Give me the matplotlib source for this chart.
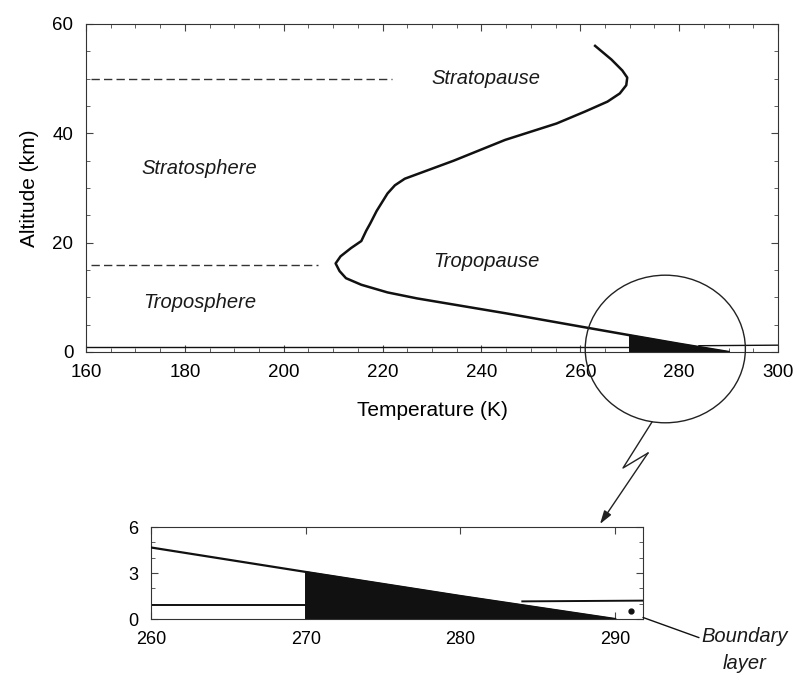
import numpy as np
import matplotlib.pyplot as plt
import matplotlib
from matplotlib.patches import Ellipse

matplotlib.rcParams['font.family'] = ['Liberation Sans', 'DejaVu Sans']
matplotlib.rcParams['text.color'] = '#1a1a1a'

# perfil de temperatura (K) vs altitud (km)
temp = [263.0, 266.3, 268.5, 269.5, 269.3, 268.0, 265.5, 261.0, 255.2, 244.8,
        234.4, 224.5, 222.5, 221.0, 218.8, 217.5, 216.7, 215.7, 213.6, 211.5,
        210.5, 211.3, 212.6, 215.7, 221.0, 227.0, 244.8, 260.4, 270.0, 280.0,
        290.0]
alt = [56.0, 53.5, 51.5, 50.2, 48.8, 47.3, 45.8, 44.0, 41.8, 38.8,
       35.0, 31.7, 30.5, 29.0, 25.8, 23.5, 22.2, 20.3, 19.0, 17.5,
       16.2, 14.8, 13.5, 12.3, 10.9, 9.8, 7.1, 4.6, 3.07, 1.5,
       0.0]

# capa límite
bl_left_T = [160, 270]
bl_left_z = [0.9, 0.9]
bl_right_T = [284, 300]
bl_right_z = [1.15, 1.25]

stratopause_z = 50
tropopause_z = 16
dash_strato_T = [161, 222]
dash_tropo_T = [161, 207]

labels = {'Stratopause': (241, 50), 'Stratosphere': (183, 33.5),
          'Tropopause': (241, 16.5), 'Troposphere': (183, 9)}

temp = np.array(temp)
alt = np.array(alt)
mask = temp >= 270
fill_T = np.concatenate([temp[mask], [temp[mask][0]]])
fill_z = np.concatenate([alt[mask], [0.0]])

fig = plt.figure(figsize=(8.04, 6.77), dpi=100)
W, H = 804, 677

def frac(l, t, r, b):
    return [l / W, 1 - b / H, (r - l) / W, (b - t) / H]

ink = '#111111'

# # Panel principal
ax = fig.add_axes(frac(86, 24, 778, 352))
ax.plot(temp, alt, color=ink, lw=1.8, zorder=3, solid_joinstyle='round')
ax.fill(fill_T, fill_z, color=ink, zorder=2)
ax.plot(bl_left_T, bl_left_z, color=ink, lw=1.0)
ax.plot(bl_right_T, bl_right_z, color=ink, lw=1.0)
ax.plot(dash_strato_T, [stratopause_z] * 2, color='#333333', lw=1.0, ls=(0, (6, 3)))
ax.plot(dash_tropo_T, [tropopause_z] * 2, color='#333333', lw=1.0, ls=(0, (6, 3)))
for txt, (tx, tz) in labels.items():
    ax.text(tx, tz, txt, style='italic', fontsize=14.5, ha='center', va='center')

ax.add_patch(Ellipse((277.2, 0.55), 32.4, 27, fill=False, ec='#222222', lw=1.0,
                     clip_on=False, zorder=4))

ax.set_xlim(160, 300)
ax.set_ylim(0, 60)
ax.set_xticks(np.arange(160, 301, 20))
ax.set_yticks([0, 20, 40, 60])
ax.set_xticks(np.arange(160, 301, 5), minor=True)
ax.set_yticks(np.arange(0, 61, 5), minor=True)
ax.tick_params(which='both', direction='in', top=True, right=True, color='#444444')
ax.tick_params(which='major', length=5, labelsize=13.5, pad=9)
ax.tick_params(which='minor', length=3)
ax.set_xlabel('Temperature (K)', fontsize=15, labelpad=14)
ax.set_ylabel('Altitude (km)', fontsize=15, labelpad=10)
for s in ax.spines.values():
    s.set_linewidth(0.8)
    s.set_color('#333333')

# # Detalle de la capa límite
axi = fig.add_axes(frac(151, 527, 643, 619))
axi.plot(temp, alt, color=ink, lw=1.6, zorder=3)
axi.fill(fill_T, fill_z, color=ink, zorder=2)
axi.plot(bl_left_T, bl_left_z, color=ink, lw=1.4)
axi.plot(bl_right_T, bl_right_z, color=ink, lw=1.4)
axi.plot([291], [0.5], 'o', color=ink, ms=3.5)
axi.set_xlim(260, 291.8)
axi.set_ylim(0, 6)
axi.set_xticks([260, 270, 280, 290])
axi.set_yticks([0, 3, 6])
axi.set_yticks(np.arange(0, 7, 1), minor=True)
axi.tick_params(which='both', direction='in', top=True, right=True, color='#444444')
axi.tick_params(which='major', length=5, labelsize=13, pad=9)
axi.tick_params(which='minor', length=3)
for s in axi.spines.values():
    s.set_linewidth(0.8)
    s.set_color('#333333')

axi.annotate('Boundary\nlayer', xy=(291.8, 0.1), xycoords='data',
             xytext=(745 / W, 1 - 650 / H), textcoords='figure fraction',
             ha='center', va='center', style='italic', fontsize=14.5,
             linespacing=1.5,
             arrowprops=dict(arrowstyle='-', color=ink, lw=1.0,
                             shrinkA=0, shrinkB=0,
                             relpos=(0.0, 0.75)))

# # Flecha en zigzag (coordenadas en píxeles de la figura)
ov = fig.add_axes([0, 0, 1, 1], zorder=-1)
ov.set_xlim(0, W)
ov.set_ylim(H, 0)
ov.axis('off')
ov.plot([652, 623, 648], [422, 468, 453], color='#222222', lw=1.0)
ov.annotate('', xy=(600, 524), xytext=(648, 453),
            arrowprops=dict(arrowstyle='-|>,head_length=0.8,head_width=0.25',
                            color='#222222', lw=1.0, shrinkA=0, shrinkB=0))

fig.savefig('out.png', dpi=100)
